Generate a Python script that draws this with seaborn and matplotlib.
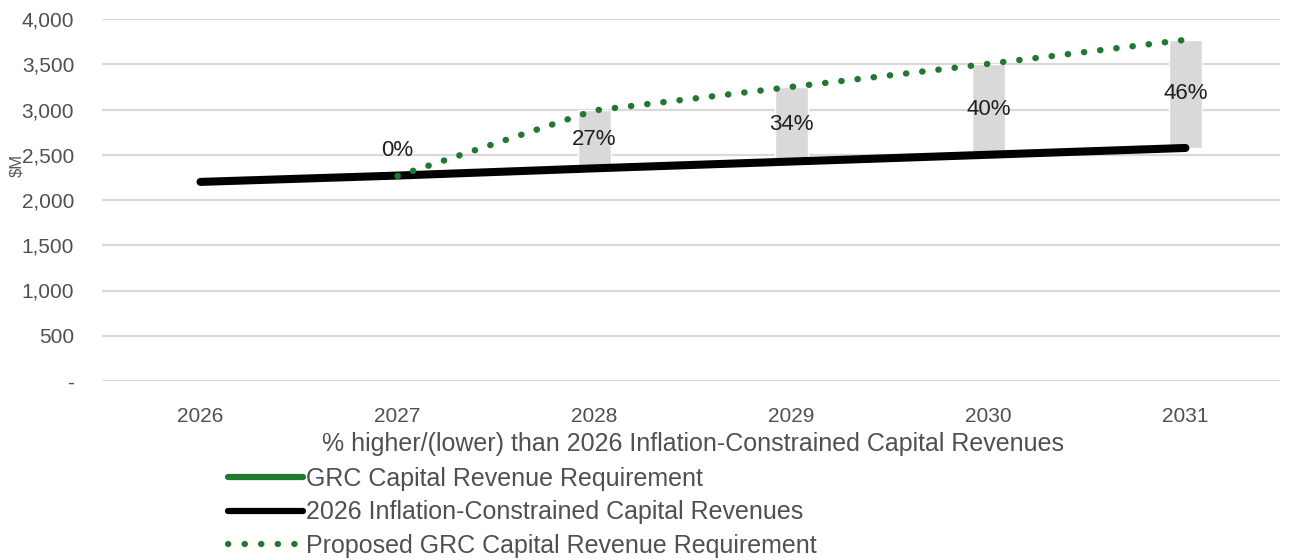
import matplotlib
matplotlib.use("Agg")
import matplotlib.pyplot as plt
import seaborn as sns
import numpy as np
import pandas as pd
from matplotlib.lines import Line2D

years = ["2026", "2027", "2028", "2029", "2030", "2031"]
constrained = [2200, 2270, 2350, 2425, 2500, 2575]
proposed = [np.nan, 2265, 2990, 3250, 3505, 3770]
pct_labels = ["", "0%", "27%", "34%", "40%", "46%"]
yticks = [0, 500, 1000, 1500, 2000, 2500, 3000, 3500, 4000]
ytick_labels = ["-", "500", "1,000", "1,500", "2,000", "2,500", "3,000", "3,500", "4,000"]

sns.set_theme(style="white")
plt.rcParams["font.family"] = ["Liberation Sans", "DejaVu Sans"]

fig = plt.figure(figsize=(12.94, 5.6), dpi=100)
ax = fig.add_axes([102 / 1294, 1 - 381 / 560, (1280 - 102) / 1294, (381 - 19) / 560])

x = np.arange(len(years))
df = pd.DataFrame({"x": x, "constrained": constrained, "proposed": proposed})

for yv in yticks:
    ax.axhline(yv, color="#d9d9d9", lw=1.6, zorder=0)

# gray difference bars
bar_bottom = []
bar_height = []
for c, p in zip(constrained, proposed):
    bar_bottom.append(c)
    bar_height.append(0 if np.isnan(p) else p - c)
ax.bar(x, bar_height, bottom=bar_bottom, width=0.17, color="#d9d9d9", zorder=1)

sns.lineplot(data=df, x="x", y="constrained", ax=ax, color="black", lw=5.8,
             solid_capstyle="round", zorder=3)
sns.lineplot(data=df.dropna(), x="x", y="proposed", ax=ax, color="#1f7a30", lw=4.6,
             linestyle=(0, (0.05, 2.5)), dash_capstyle="round", zorder=4)

for xi, lab, b, h in zip(x, pct_labels, bar_bottom, bar_height):
    if not lab:
        continue
    if abs(h) < 100:
        ax.annotate(lab, (xi, max(b, b + h)), xytext=(0, 18), textcoords="offset points",
                    ha="center", va="center", fontsize=16, color="#1f1f1f", zorder=5)
    else:
        ax.text(xi, b + h / 2, lab, ha="center", va="center", fontsize=16,
                color="#1f1f1f", zorder=5)

ax.set_xlim(-0.5, 5.48)
ax.set_ylim(0, 4000)
ax.set_xticks(x)
ax.set_xticklabels(years, fontsize=15, color="#505050")
ax.set_yticks(yticks)
ax.set_yticklabels(ytick_labels, fontsize=15, color="#505050")
ax.tick_params(axis="x", pad=19, length=0)
ax.tick_params(axis="y", pad=20, length=0)
for s in ax.spines.values():
    s.set_visible(False)
ax.set_xlabel("")
ax.set_ylabel("")

fig.text(17 / 1294, 1 - 165 / 560, "$M", rotation=90, ha="center", va="center",
         fontsize=12, color="#595959")

fig.text(0.5 * (310 + 1075) / 1294, 1 - 444 / 560,
         "% higher/(lower) than 2026 Inflation-Constrained Capital Revenues",
         ha="center", va="center", fontsize=18, color="#505050")

handles = [
    Line2D([], [], color="#1f7a30", lw=4.5),
    Line2D([], [], color="black", lw=4.5),
    Line2D([], [], color="#1f7a30", lw=4.5, linestyle=(0, (0.05, 2.6)), dash_capstyle="round"),
]
labels = ["GRC Capital Revenue Requirement",
          "2026 Inflation-Constrained Capital Revenues",
          "Proposed GRC Capital Revenue Requirement"]
leg = fig.legend(handles, labels, loc="upper left",
                 bbox_to_anchor=(228 / 1294, 1 - 467 / 560), frameon=False,
                 handlelength=3.0, handletextpad=0.1, labelspacing=0.38,
                 borderaxespad=0, borderpad=0, prop={"size": 18})
for t in leg.get_texts():
    t.set_color("#505050")

fig.savefig("out.png", dpi=100)
